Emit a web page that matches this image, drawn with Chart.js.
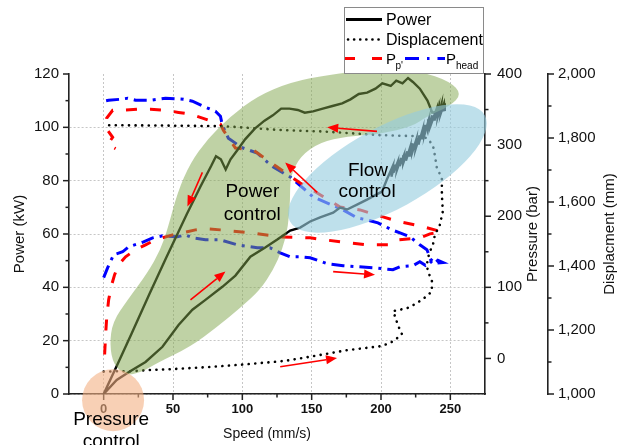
<!DOCTYPE html>
<html>
<head>
<meta charset="utf-8">
<script src="https://cdn.jsdelivr.net/npm/chart.js@4.4.1/dist/chart.umd.min.js"></script>
<style>
  html, body { margin: 0; padding: 0; background: #fff; }
  #wrap { width: 625px; height: 445px; position: relative; }
</style>
</head>
<body>
<div id="wrap"><canvas id="chart"></canvas></div>
<script>
// Power (kW) against speed (mm/s), one full loop starting at the origin
const powerSpeed = [0, 9.4, 19.4, 30.2, 42.4, 54, 64, 73.4, 85.6, 95, 105.8, 116.5, 125.2, 134.5, 141.7, 148.9, 156.1, 165.5, 170.5, 175.5, 182.7, 189.9, 194.2, 200.7, 204.3,
  206, 208.5, 207.5, 210, 209, 212, 211.5, 214.5, 213.5, 216.5, 216, 219, 218, 221, 220.5, 223, 222.5, 225.5, 225, 228, 227, 230, 229.5, 232, 231.5, 234.5, 234, 237, 236, 239.5, 238.5, 241.5, 241, 243.5, 243, 245.5, 246,
  237, 233.5, 228, 223, 219.5, 215.5, 211, 207, 201, 196, 190, 184, 178, 172, 165, 158, 151, 145, 140, 134, 128, 122, 116, 109, 102, 96.5, 91.5, 88, 84.5, 81, 77.5, 70, 60, 45, 33, 20, 10, 0];
const powerKW = [0, 5.3, 8.6, 12, 17.7, 25.9, 31.6, 35.3, 40.2, 44.4, 51.5, 54.9, 57.9, 61.3, 62.4, 64.7, 66.2, 68, 69.9, 69.2, 71, 72.9, 74.1, 75.9, 80.5,
  82.5, 85.5, 81.5, 86, 83, 87, 84, 88.5, 85.5, 89.5, 86.5, 91, 87.5, 92.5, 89, 94, 90.5, 95.5, 92, 97, 93.5, 99, 95.5, 101, 97.5, 103, 99.5, 104.5, 101, 106, 102.5, 107.5, 104, 108.5, 105, 109, 106.5,
  105.5, 110, 114.5, 117, 118.5, 116.5, 117.5, 115.5, 116.5, 114.5, 113, 112.5, 110.5, 109, 108, 107, 106, 105.5, 106.5, 107, 107, 104.5, 102.5, 99.5, 95.5, 91.5, 88, 84.2, 88, 89.2, 85.5, 78, 67.5, 51, 37.5, 22.5, 11.2, 0];

// Displacement (mm) against speed
const dispSpeed = [0, 10, 19.4, 28.8, 50, 75, 100, 127.3, 134.5, 151, 175.5, 199.3, 206.5, 211.5, 215.1, 212.2, 210.1, 208.6, 218.7, 225.9, 233.1, 236.7, 236.7, 233.8, 233.1, 233.8, 235.3, 237.4, 238.8, 242.4, 244.6, 243.9, 243.9, 240.3, 238.8, 237.4, 233.1, 223, 199.3, 160, 127.3, 86.3, 40, 0];
const dispMM = [1070, 1071, 1071, 1074, 1078, 1084, 1092, 1102, 1106, 1118, 1137, 1149, 1159, 1174, 1187, 1215, 1243, 1259, 1268, 1284, 1306, 1321, 1353, 1384, 1403, 1424, 1446, 1465, 1496, 1528, 1571, 1621, 1675, 1706, 1747, 1778, 1800, 1806, 1809, 1820, 1825, 1837, 1839, 1840];

// Pump pressure P_p' (bar) against speed
const ppSpeed = [0.7, 1.4, 2.2, 3.6, 5.8, 7.9, 10.8, 15.8, 23, 30.2, 37.4, 49.6, 56.8, 66.2, 73.4, 84.2, 105.8, 127.3, 148.9, 170.5, 189.9, 206.5, 212.2, 228, 235.3, 243.9,
  228, 213.7, 201.4, 184.9, 170.5, 154, 141.7, 125.2, 107.9, 95, 86.3, 84.2, 73.4, 62.6, 54, 44.6, 33.8, 25.2, 14.4, 6.5, 2.2, 1.4, 6.5, 2.9, 8.6];
const ppBar = [5.6, 33.6, 57.5, 82.7, 103.7, 117.8, 131.8, 143, 152.8, 159.8, 166.8, 173.8, 176.6, 180.8, 182.3, 180.8, 176.6, 171, 169.6, 164, 159.8, 159.8, 166.8, 169.6, 175.2, 178,
  186.5, 192, 199, 208.9, 213, 232.7, 246.7, 269.2, 293, 295.8, 321, 329.5, 336.5, 343.5, 346, 349, 350.5, 350.5, 349, 349, 338, 325, 311, 301, 295];

// Head-side pressure P_head (bar) against speed
const headSpeed = [0, 2.9, 7.2, 13.7, 18, 28.8, 35.3, 42.4, 53.2, 59, 64, 73.4, 84.2, 96.4, 110.8, 120, 127.3, 134.5, 141.7, 148.9, 161.2, 172.7, 182.7, 194.2, 208.6, 213.7, 223, 228, 232, 235.3, 238, 241, 244.6, 239, 236,
  233.1, 228, 220.9, 213.7, 207.9, 197.8, 189.9, 182.7, 172.7, 151, 145.3, 134.5, 122.3, 118, 110.8, 98.6, 95, 89.9, 85.6, 84.2, 80.6, 73.4, 64, 57.6, 44.6, 33.8, 23, 17.3, 12.2, 3.6, 0];
const headBar = [113.6, 127.6, 145.8, 150, 157, 164, 169.6, 172.4, 171, 173.8, 169.6, 166.8, 166.8, 159.8, 155.6, 155.6, 148.6, 143, 143, 141.6, 133.2, 130.4, 129, 127.6, 124.8, 129, 130.4, 136, 131, 137, 132, 138, 135, 134, 139,
  152.8, 159.8, 171, 176.6, 180.8, 190.7, 194.9, 197.7, 208.9, 227.1, 236.9, 255.2, 269.2, 276.2, 288.8, 297.2, 302.8, 309.8, 328, 340.7, 347.7, 353.3, 361.7, 364.5, 365.9, 363.1, 363.1, 365.9, 364.5, 363.1, 361.7];

// axis tick values
const speedTicks = [0, 50, 100, 150, 200, 250];
const powerTicks = [0, 20, 40, 60, 80, 100, 120];
const pressureTicks = [0, 100, 200, 300, 400];
const dispTicks = [1000, 1200, 1400, 1600, 1800, 2000];

// annotation regions, anchored in speed / power units
const powerZone = [[46, 61.7], [53.2, 75.6], [62.6, 86.8], [74.8, 95.5], [91.4, 104.1], [110.8, 111.7], [134.5, 116.9], [163.3, 119.9], [199.3, 121.8],
  [228.1, 121.1], [249.6, 117.3], [258.3, 112.4], [249.6, 107.9], [233.1, 104.1], [223, 100.4], [199.3, 97.4], [175.5, 96.6], [156.1, 94.4], [141.7, 89.1],
  [134.5, 81.6], [134.5, 72.9], [133.1, 62.8], [128.8, 54.1], [122.3, 46.6], [112.9, 39.1], [98.6, 32.3], [82, 25.2], [62.6, 17.7], [38.8, 11.7], [26.6, 7.9],
  [15.8, 7.1], [7.2, 10.9], [4.3, 18.4], [6.5, 27.1], [17.3, 35.3], [31.7, 45.5], [41, 54.1]];
const flowZone = { at: [204.6, 84.6], rx: 111, ry: 41, angle: -0.50 };
const pressureZone = { at: [6.8, -2.3], r: 31 };
const arrows = [[62.6, 35.3, 87.8, 45.9], [71.2, 83.1, 60.4, 70.3], [154, 75.6, 130.9, 86.8], [197.1, 98.5, 161.2, 100], [165.5, 45.9, 195.7, 44.7], [127.3, 10.2, 168.3, 13.5]];
const zoneLabels = [['Power', 107.2, 73.7], ['control', 107.2, 65.4], ['Flow', 190.6, 81.6], ['control', 190, 73.7], ['Pressure', 5.4, -11.7], ['control', 5.4, -19.9]];

const FONT = '"Liberation Sans", Arial, sans-serif';
const pts = (xs, ys) => xs.map((v, i) => ({ x: v, y: ys[i] }));

function smoothClosed(ctx, p) {
  const n = p.length;
  const mid = (a, b) => [(a[0] + b[0]) / 2, (a[1] + b[1]) / 2];
  const m0 = mid(p[n - 1], p[0]);
  ctx.moveTo(m0[0], m0[1]);
  for (let i = 0; i < n; i++) {
    const m = mid(p[i], p[(i + 1) % n]);
    ctx.quadraticCurveTo(p[i][0], p[i][1], m[0], m[1]);
  }
  ctx.closePath();
}

function arrow(ctx, x1, y1, x2, y2) {
  const a = Math.atan2(y2 - y1, x2 - x1), L = 11, W = 4.5;
  const bx = x2 - L * Math.cos(a), by = y2 - L * Math.sin(a);
  ctx.beginPath(); ctx.moveTo(x1, y1); ctx.lineTo(bx, by); ctx.stroke();
  ctx.beginPath(); ctx.moveTo(x2, y2);
  ctx.lineTo(bx + W * Math.sin(a), by - W * Math.cos(a));
  ctx.lineTo(bx - W * Math.sin(a), by + W * Math.cos(a));
  ctx.closePath(); ctx.fill();
}

// short outward tick marks, major and minor, plus the axis titles
const tickMarks = {
  id: 'tickMarks',
  beforeDatasetsDraw(chart) {
    const { ctx, scales } = chart;
    ctx.save();
    ctx.strokeStyle = '#222';
    ctx.lineWidth = 1.5;
    const mark = (scale, values, len) => {
      values.forEach(v => {
        const p = scale.getPixelForValue(v);
        ctx.beginPath();
        if (scale.axis === 'x') { ctx.moveTo(p, scale.top); ctx.lineTo(p, scale.top + len); }
        else if (scale.position === 'left') { ctx.moveTo(scale.right, p); ctx.lineTo(scale.right - len, p); }
        else { ctx.moveTo(scale.left, p); ctx.lineTo(scale.left + len, p); }
        ctx.stroke();
      });
    };
    const minors = (t) => t.slice(1).map((v, i) => (v + t[i]) / 2);
    mark(scales.x, speedTicks, 6); mark(scales.x, minors(speedTicks), 3.5);
    mark(scales.y, powerTicks, 6); mark(scales.y, minors(powerTicks), 3.5);
    mark(scales.y1, pressureTicks, 6); mark(scales.y1, minors(pressureTicks), 3.5);
    mark(scales.y2, dispTicks, 6); mark(scales.y2, minors(dispTicks), 3.5);

    // titles: the right-hand ones read bottom to top like the left one
    const area = chart.chartArea;
    const midY = (area.top + area.bottom) / 2;
    ctx.fillStyle = '#111';
    ctx.textAlign = 'center';
    ctx.textBaseline = 'middle';
    ctx.font = '15px ' + FONT;
    [['Pressure (bar)', scales.y2.left - 15], ['Displacment (mm)', scales.y2.right - 15]].forEach(t => {
      ctx.save();
      ctx.translate(t[1], midY);
      ctx.rotate(-Math.PI / 2);
      ctx.fillText(t[0], 0, 0);
      ctx.restore();
    });
    ctx.font = '14px ' + FONT;
    ctx.fillText('Speed (mm/s)', area.left + (area.right - area.left) * 0.476, scales.x.bottom - 11);
    ctx.restore();
  }
};

// shaded control regions, arrows and their labels
const overlays = {
  id: 'overlays',
  afterDatasetsDraw(chart) {
    const { ctx, scales: { x, y } } = chart;
    const X = v => x.getPixelForValue(v), Y = v => y.getPixelForValue(v);
    ctx.save();
    ctx.fillStyle = 'rgba(128, 165, 75, 0.5)';
    ctx.beginPath();
    smoothClosed(ctx, powerZone.map(p => [X(p[0]), Y(p[1])]));
    ctx.fill();

    ctx.fillStyle = 'rgba(150, 205, 222, 0.62)';
    ctx.beginPath();
    ctx.ellipse(X(flowZone.at[0]), Y(flowZone.at[1]), flowZone.rx, flowZone.ry, flowZone.angle, 0, Math.PI * 2);
    ctx.fill();

    ctx.fillStyle = 'rgba(244, 177, 131, 0.6)';
    ctx.beginPath();
    ctx.arc(X(pressureZone.at[0]), Y(pressureZone.at[1]), pressureZone.r, 0, Math.PI * 2);
    ctx.fill();

    ctx.strokeStyle = '#ff0000';
    ctx.fillStyle = '#ff0000';
    ctx.lineWidth = 1.6;
    arrows.forEach(a => arrow(ctx, X(a[0]), Y(a[1]), X(a[2]), Y(a[3])));

    ctx.fillStyle = '#000';
    ctx.font = '19px ' + FONT;
    ctx.textAlign = 'center';
    ctx.textBaseline = 'alphabetic';
    zoneLabels.forEach(l => ctx.fillText(l[0], X(l[1]), Y(l[2])));
    ctx.restore();
  }
};

// boxed legend with subscripts
const boxLegend = {
  id: 'boxLegend',
  afterDraw(chart) {
    const ctx = chart.ctx;
    ctx.save();
    ctx.fillStyle = '#fff';
    ctx.fillRect(344, 7, 139, 66);
    ctx.strokeStyle = '#8a8a8a';
    ctx.lineWidth = 1;
    ctx.strokeRect(344.5, 7.5, 139, 66);

    const sample = (x1, x2, yy, color, width, dash, cap) => {
      ctx.beginPath();
      ctx.strokeStyle = color; ctx.lineWidth = width; ctx.setLineDash(dash); ctx.lineCap = cap;
      ctx.moveTo(x1, yy); ctx.lineTo(x2, yy); ctx.stroke();
    };
    sample(346, 382, 19.5, '#000', 3, [], 'butt');
    sample(348, 382, 39.5, '#000', 2.6, [0.1, 6], 'round');
    sample(345, 382, 58.5, '#ff0000', 3, [10, 17], 'butt');
    sample(405, 445, 58.5, '#0000ff', 3, [14, 8, 2.5, 8], 'butt');
    ctx.setLineDash([]);

    ctx.fillStyle = '#000';
    ctx.textAlign = 'left';
    ctx.textBaseline = 'alphabetic';
    ctx.font = '16px ' + FONT;
    ctx.fillText('Power', 386, 25);
    ctx.fillText('Displacement', 386, 45);
    ctx.font = '15px ' + FONT;
    ctx.fillText('P', 386, 64);
    ctx.fillText('P', 446, 64);
    ctx.font = '10px ' + FONT;
    ctx.fillText("p'", 395.5, 69);
    ctx.fillText('head', 456, 69);
    ctx.restore();
  }
};

const gridColor = c => (c.tick && c.tick.value === 120) ? 'rgba(0,0,0,0)' : '#c6c6c6';
const axisBorder = { display: true, color: '#222', width: 1.6, dash: [2, 2] };

new Chart(document.getElementById('chart'), {
  type: 'scatter',
  data: {
    datasets: [
      { label: 'Power', data: pts(powerSpeed, powerKW), yAxisID: 'y', borderColor: '#000', borderWidth: 2.4 },
      { label: 'Displacement', data: pts(dispSpeed, dispMM), yAxisID: 'y2', borderColor: '#000', borderWidth: 2.6, borderDash: [0.1, 6.5], borderCapStyle: 'round' },
      { label: "Pp'", data: pts(ppSpeed, ppBar), yAxisID: 'y1', borderColor: '#ff0000', borderWidth: 3, borderDash: [11, 13] },
      { label: 'Phead', data: pts(headSpeed, headBar), yAxisID: 'y1', borderColor: '#0000ff', borderWidth: 3, borderDash: [13, 6, 3, 6] }
    ].map(d => Object.assign({ showLine: true, pointRadius: 0, tension: 0, fill: false }, d))
  },
  options: {
    responsive: true,
    maintainAspectRatio: false,
    animation: false,
    devicePixelRatio: 1,
    layout: { padding: { top: 74, left: 0, right: 0, bottom: 0 } },
    plugins: { legend: { display: false }, tooltip: { enabled: false } },
    scales: {
      x: {
        type: 'linear', position: 'bottom', min: -25, max: 275,
        afterBuildTicks: s => { s.ticks = speedTicks.map(v => ({ value: v })); },
        afterFit: s => { s.height = 51; },
        grid: { color: '#c6c6c6', lineWidth: 1, drawTicks: false },
        border: axisBorder,
        ticks: { font: { family: FONT, size: 13, weight: 'bold' }, color: '#111', padding: 8, maxRotation: 0 },
        title: { display: false }
      },
      y: {
        type: 'linear', position: 'left', min: 0, max: 120,
        afterBuildTicks: s => { s.ticks = powerTicks.map(v => ({ value: v })); },
        afterFit: s => { s.width = 69; },
        grid: { color: gridColor, lineWidth: 1, drawTicks: false },
        border: axisBorder,
        ticks: { font: { family: FONT, size: 15 }, color: '#111', padding: 10 },
        title: { display: true, text: 'Power (kW)', font: { family: FONT, size: 15 }, color: '#111', padding: { top: 11, bottom: 0 } }
      },
      y1: {
        type: 'linear', position: 'right', min: -50, max: 400, weight: 0,
        afterBuildTicks: s => { s.ticks = pressureTicks.map(v => ({ value: v })); },
        afterFit: s => { s.width = 63; },
        grid: { drawOnChartArea: false, drawTicks: false },
        border: axisBorder,
        ticks: { font: { family: FONT, size: 15 }, color: '#111', padding: 12 },
        title: { display: false }
      },
      y2: {
        type: 'linear', position: 'right', min: 1000, max: 2000, weight: 1,
        afterBuildTicks: s => { s.ticks = dispTicks.map(v => ({ value: v })); },
        afterFit: s => { s.width = 77; },
        grid: { drawOnChartArea: false, drawTicks: false },
        border: axisBorder,
        ticks: { font: { family: FONT, size: 15 }, color: '#111', padding: 10, callback: v => v.toLocaleString('en-US') },
        title: { display: false }
      }
    }
  },
  plugins: [tickMarks, overlays, boxLegend]
});
</script>
</body>
</html>
